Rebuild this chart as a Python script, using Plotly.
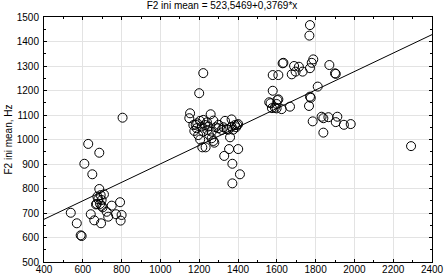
import numpy as np
import plotly.graph_objects as go

# F2 initial duration-like predictor (x) and F2 ini mean (Hz)
x_vals = [538, 569, 589, 594, 608, 628, 641, 649, 659, 668, 685, 685, 694, 697, 723, 731,
          749, 771, 792, 800, 795, 675, 692, 709, 680, 697, 672, 689, 702, 805,
          1153, 1149, 1170, 1200, 1221, 1187, 1195, 1204, 1213, 1221, 1221, 1230, 1242, 1247,
          1259, 1264, 1264, 1273, 1273, 1278, 1216, 1233, 1298, 1316, 1333, 1342, 1359, 1367,
          1367, 1384, 1396, 1401, 1354, 1401, 1329, 1371, 1410, 1371, 1182, 1240, 1250, 1285,
          1300, 1325, 1350, 1375, 1390, 1175, 1205, 1190,
          1561, 1579, 1608, 1630, 1579, 1608, 1568, 1599, 1599, 1603, 1625, 1668, 1634, 1677,
          1689, 1697, 1714, 1733, 1771, 1768, 1788, 1780, 1771, 1811, 1771, 1775, 1766, 1871,
          1900, 1904, 1785, 1831, 1840, 1866, 1912, 1904, 1946, 1981, 1840, 2292, 1590, 1575]
y_vals = [701, 658, 609, 606, 901, 982, 695, 858, 670, 735, 798, 946, 658, 729, 705, 685,
          730, 695, 744, 692, 669, 767, 773, 776, 756, 753, 737, 737, 723, 1089,
          1107, 1087, 1059, 1189, 1271, 1046, 1018, 1076, 1053, 1080, 1032, 1059, 1039, 1053,
          1103, 1032, 1005, 1077, 994, 987, 968, 968, 1046, 1039, 1076, 1042, 1009, 1082,
          1052, 1059, 1059, 1063, 961, 961, 933, 901, 858, 821, 1060, 1070, 1020, 1050,
          1060, 1050, 1040, 1040, 1050, 1035, 1000, 1066,
          1152, 1263, 1263, 1311, 1199, 1164, 1148, 1145, 1127, 1161, 1124, 1134, 1313, 1266,
          1300, 1277, 1297, 1277, 1467, 1424, 1327, 1313, 1291, 1216, 1175, 1170, 1137, 1304,
          1270, 1268, 1074, 1093, 1087, 1091, 1093, 1071, 1060, 1063, 1028, 973, 1130, 1128]

intercept = 523.5469
slope = 0.3769
x_range = [400, 2400]
y_range = [500, 1500]
x_ticks = [400, 600, 800, 1000, 1200, 1400, 1600, 1800, 2000, 2200, 2400]
y_ticks = [500, 600, 700, 800, 900, 1000, 1100, 1200, 1300, 1400, 1500]

line_x = np.array(x_range, dtype=float)
line_y = intercept + slope * line_x

FONT = "Arial, Liberation Sans, sans-serif"

fig = go.Figure()
fig.add_trace(go.Scatter(x=x_vals, y=y_vals, mode="markers",
                         marker=dict(symbol="circle-open", size=9, color="black",
                                     line=dict(width=1, color="black")),
                         showlegend=False, cliponaxis=True))
fig.add_trace(go.Scatter(x=line_x, y=line_y, mode="lines",
                         line=dict(color="black", width=1), showlegend=False))

axis_common = dict(showline=True, linecolor="black", linewidth=1, mirror="ticks",
                   ticks="inside", ticklen=3, tickcolor="black", tickwidth=1,
                   showgrid=True, gridcolor="#e3e3e3", gridwidth=1, zeroline=False,
                   automargin=False,
                   tickfont=dict(family=FONT, size=10, color="black"))

fig.update_xaxes(range=x_range, tickvals=x_ticks, ticklabelstandoff=-2,
                 minor=dict(dtick=100, ticks="inside", ticklen=2, tickcolor="black", showgrid=False),
                 **axis_common)
fig.update_yaxes(range=y_range, tickvals=y_ticks, ticklabelstandoff=2,
                 title=dict(text="F2 ini mean, Hz", standoff=2,
                            font=dict(family=FONT, size=10, color="black")),
                 minor=dict(dtick=50, ticks="inside", ticklen=2, tickcolor="black", showgrid=False),
                 **axis_common)

fig.update_layout(
    width=444, height=275,
    margin=dict(l=44, r=12, t=17, b=13, autoexpand=False),
    paper_bgcolor="white", plot_bgcolor="white",
    title=dict(text="F2 ini mean = 523,5469+0,3769*x", x=0.5, xanchor="center",
               y=0.993, yanchor="top", automargin=False, pad=dict(t=0, b=0),
               font=dict(family=FONT, size=10, color="black")),
)

fig.write_html("out.html", config={"displayModeBar": False},
               post_script="document.body.style.margin='0';")
